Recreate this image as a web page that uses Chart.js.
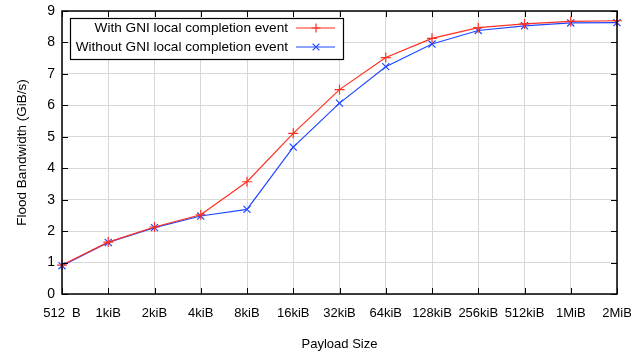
<!DOCTYPE html>
<html>
<head>
<meta charset="utf-8">
<script src="https://cdn.jsdelivr.net/npm/chart.js@4"></script>
<style>
  html, body { margin: 0; padding: 0; background: #fff; }
  #wrap { width: 631px; height: 352px; position: relative; }
</style>
</head>
<body>
<div id="wrap"><canvas id="c" width="631" height="352"></canvas></div>
<script>
// Payload sizes on the x axis
const payloadSizes = ['512  B', '1kiB', '2kiB', '4kiB', '8kiB', '16kiB', '32kiB', '64kiB',
                      '128kiB', '256kiB', '512kiB', '1MiB', '2MiB'];
// Flood bandwidth in GiB/s
const withEvent    = [0.92, 1.65, 2.13, 2.52, 3.57, 5.11, 6.50, 7.52, 8.13, 8.47, 8.59, 8.67, 8.69];
const withoutEvent = [0.90, 1.64, 2.11, 2.48, 2.69, 4.67, 6.07, 7.23, 7.95, 8.38, 8.53, 8.62, 8.63];
const yTicks = [0, 1, 2, 3, 4, 5, 6, 7, 8, 9];

const seriesNames = ['With GNI local completion event', 'Without GNI local completion event'];
const RED = 'rgb(255,48,32)';
const BLUE = 'rgb(32,72,255)';
const FONT = 'Liberation Sans, Arial, sans-serif';

// Frame, inward tick marks and the boxed legend, drawn on top of the chart area
const framePlugin = {
  id: 'frame',
  afterDatasetsDraw(chart) {
    const { ctx, chartArea: a, scales } = chart;
    ctx.save();
    ctx.strokeStyle = '#000';
    ctx.lineWidth = 1.5;
    ctx.strokeRect(a.left, a.top, a.right - a.left, a.bottom - a.top);
    ctx.lineWidth = 1;
    ctx.beginPath();
    const t = 6;
    scales.y.ticks.forEach(tk => {
      const y = Math.round(scales.y.getPixelForValue(tk.value)) + 0.5;
      ctx.moveTo(a.left, y); ctx.lineTo(a.left + t, y);
      ctx.moveTo(a.right, y); ctx.lineTo(a.right - t, y);
    });
    payloadSizes.forEach((_, i) => {
      const x = Math.round(scales.x.getPixelForValue(i)) + 0.5;
      ctx.moveTo(x, a.bottom); ctx.lineTo(x, a.bottom - t);
      ctx.moveTo(x, a.top); ctx.lineTo(x, a.top + t);
    });
    ctx.stroke();

    // legend box
    const bx = a.left + 8.5, by = a.top + 7.5, bw = 273, bh = 41;
    ctx.fillStyle = '#fff';
    ctx.fillRect(bx, by, bw, bh);
    ctx.lineWidth = 1.2;
    ctx.strokeStyle = '#000';
    ctx.strokeRect(bx, by, bw, bh);
    ctx.font = '13.6px ' + FONT;
    ctx.textAlign = 'right';
    ctx.textBaseline = 'middle';
    const rows = [a.top + 17, a.top + 36];
    chart.data.datasets.forEach((ds, i) => {
      const y = rows[i];
      ctx.fillStyle = '#000';
      ctx.fillText(ds.label, a.left + 226, y);
      ctx.strokeStyle = ds.borderColor;
      ctx.lineWidth = 1.2;
      ctx.beginPath();
      ctx.moveTo(a.left + 234, y); ctx.lineTo(a.left + 273, y);
      ctx.stroke();
      const mx = a.left + 254, r = 4.5;
      ctx.beginPath();
      if (i === 0) {
        ctx.moveTo(mx - r, y); ctx.lineTo(mx + r, y);
        ctx.moveTo(mx, y - r); ctx.lineTo(mx, y + r);
      } else {
        const d = r * 0.75;
        ctx.moveTo(mx - d, y - d); ctx.lineTo(mx + d, y + d);
        ctx.moveTo(mx - d, y + d); ctx.lineTo(mx + d, y - d);
      }
      ctx.stroke();
    });
    ctx.restore();
  }
};

new Chart(document.getElementById('c'), {
  type: 'line',
  data: {
    labels: payloadSizes,
    datasets: [
      {
        label: seriesNames[0], data: withEvent,
        borderColor: RED, backgroundColor: RED, borderWidth: 1.2,
        pointStyle: 'cross', pointRadius: 5, pointBorderWidth: 1.2,
        tension: 0
      },
      {
        label: seriesNames[1], data: withoutEvent,
        borderColor: BLUE, backgroundColor: BLUE, borderWidth: 1.2,
        pointStyle: 'crossRot', pointRadius: 5, pointBorderWidth: 1.2,
        tension: 0
      }
    ]
  },
  options: {
    responsive: false,
    animation: false,
    layout: { padding: { top: 11, right: 14, left: 0, bottom: 0 } },
    plugins: { legend: { display: false }, tooltip: { enabled: false } },
    scales: {
      x: {
        type: 'category',
        offset: false,
        grid: { color: '#d8d8d8', lineWidth: 1, drawTicks: false },
        border: { display: false },
        ticks: { color: '#000', font: { family: FONT, size: 13 }, padding: 12,
                 maxRotation: 0, autoSkip: false },
        title: { display: true, text: 'Payload Size', color: '#000',
                 font: { family: FONT, size: 13 }, padding: { top: 0, bottom: 0 } },
        afterFit(s) { s.height = 58; s.paddingLeft = 0; s.paddingRight = 0; }
      },
      y: {
        min: 0, max: 9,
        afterBuildTicks(s) { s.ticks = yTicks.map(v => ({ value: v })); },
        grid: { color: '#d8d8d8', lineWidth: 1, drawTicks: false },
        border: { display: false },
        ticks: { color: '#000', font: { family: FONT, size: 14 }, padding: 7 },
        title: { display: true, text: 'Flood Bandwidth (GiB/s)', color: '#000',
                 font: { family: FONT, size: 13.5 }, padding: { top: 14, bottom: 0 } },
        afterFit(s) { s.width = 62; s.paddingTop = 0; s.paddingBottom = 0; }
      }
    }
  },
  plugins: [framePlugin]
});
</script>
</body>
</html>
